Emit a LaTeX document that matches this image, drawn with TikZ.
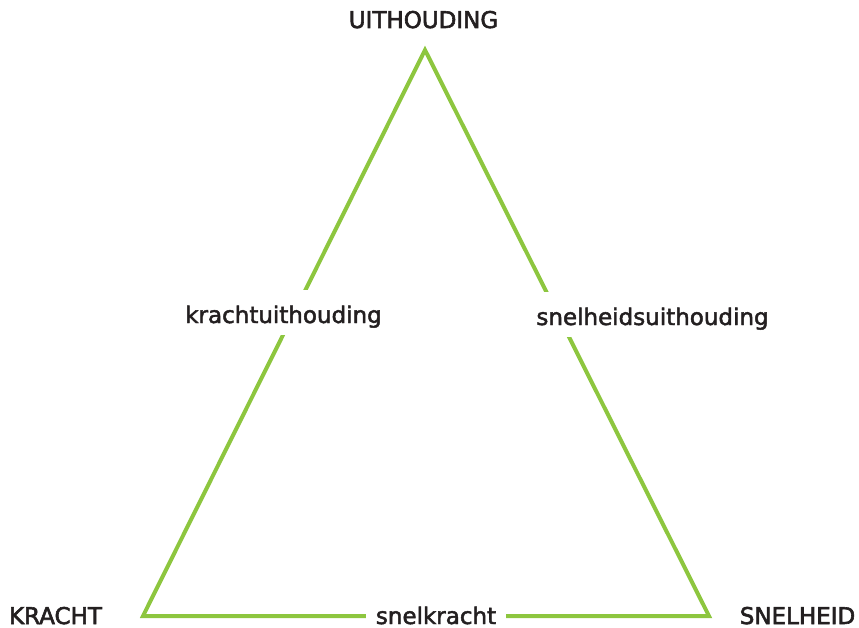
\documentclass[tikz,border=0pt]{standalone}
\usepackage{fontspec}
\setmainfont{DejaVu Sans}
\newfontface\lblfont{DejaVu Sans}[FakeBold=2]
\newfontface\capfont{DejaVu Sans}[FakeBold=2.6]
\definecolor{tgreen}{RGB}{141,198,63}
\definecolor{tgray}{RGB}{35,31,32}
\begin{document}
\begin{tikzpicture}[x=1pt,y=-1pt,
  edge/.style={draw=tgreen,line width=4pt,line join=miter},
  corner/.style={text=tgray,font=\capfont\fontsize{23}{23}\selectfont,anchor=base,inner sep=0pt},
  mid/.style={text=tgray,font=\lblfont\fontsize{23}{23}\selectfont,anchor=base,fill=white,inner xsep=10pt,inner ysep=0pt,text height=33pt,text depth=12pt}]
\useasboundingbox (0,0) rectangle (859,628);
\coordinate (T) at (425,50);
\coordinate (L) at (143,616);
\coordinate (R) at (709,616);
\draw[edge] (T) -- (L) -- (R) -- cycle;
\node[corner] (uit) at (423.5,28) {UITHOUDING};
\node[corner] (kr) at (55.5,624) {KRACHT};
\node[corner] (sn) at (797.5,624) {SNELHEID};
\node[mid] (ku) at (283.5,323) {krachtuithouding};
\node[mid] (su) at (652.5,325) {snelheidsuithouding};
\node[mid,text height=20pt,text depth=3pt] (sk) at (436,624) {snelkracht};
\end{tikzpicture}
\end{document}
